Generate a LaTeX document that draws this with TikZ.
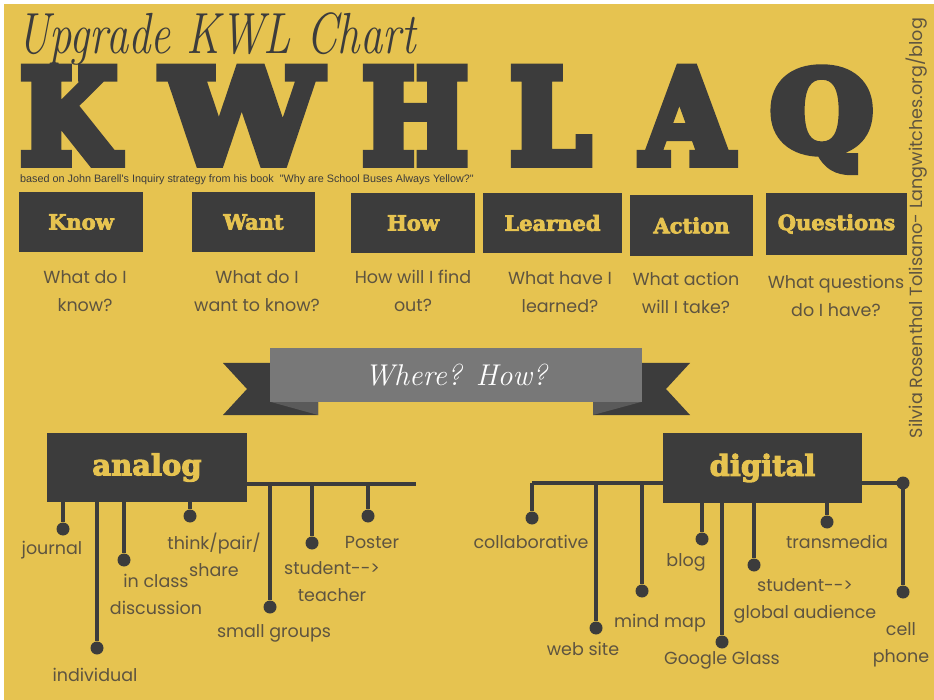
\documentclass[tikz,border=0pt]{standalone}
\usepackage{fontspec}
\usepackage{graphicx}
\usepackage{tikz}
\usetikzlibrary{positioning}
\newfontfamily\popfont{Poppins}
\newfontfamily\slabfont{DejaVu Serif}[FakeBold=3.5]
\newfontfamily\hugefont{DejaVu Serif}[FakeBold=8]
\newfontfamily\arialfont{Liberation Sans}
\definecolor{kwlyellow}{HTML}{E6C350}
\definecolor{kwldark}{HTML}{3C3C3C}
\definecolor{kwlgray}{HTML}{787878}
\definecolor{kwlfold}{HTML}{5A5A5A}
\definecolor{kwltext}{HTML}{5E5440}
\tikzset{
	twig/.style={draw=kwldark, line width=4pt}
}
\tikzstyle{stage}=[fill=kwldark, text=kwlyellow, inner sep=0pt, font=\slabfont\bfseries\fontsize{21}{21}\selectfont]
\tikzstyle{hub}=[fill=kwldark, text=kwlyellow, inner sep=0pt, font=\slabfont\bfseries\fontsize{29}{29}\selectfont]
\tikzstyle{ask}=[text=kwltext, inner sep=0pt, align=center, font=\popfont\fontsize{17.5}{28}\selectfont]
\tikzstyle{tag}=[text=kwltext, inner sep=0pt, align=center, font=\popfont\fontsize{17.5}{27}\selectfont]
\tikzstyle{knob}=[circle, fill=kwldark, inner sep=0pt, minimum size=13pt]
\newcommand{\bigLetter}[4]{
	\node[anchor=south west, inner sep=0pt, text=kwldark] (#1) at (#2,163) {\resizebox*{#3pt}{94pt}{\hugefont\bfseries #4}};
}

\begin{document}
\begin{tikzpicture}[x=1pt, y=-1pt]
	\useasboundingbox (0,0) rectangle (934,700);
	\fill[white] (0,0) rectangle (934,700);
	\fill[kwlyellow] (4,4) rectangle (934,700);
	\node[anchor=base west, inner sep=0pt, text=kwldark] (title) at (17,54) {\scalebox{0.77}[1]{\fontsize{58}{58}\selectfont\itshape Upgrade KWL Chart}};
	\bigLetter{bigK}{20}{97}{K}
	\bigLetter{bigW}{163}{157}{W}
	\bigLetter{bigH}{362}{106}{H}
	\bigLetter{bigL}{510}{80}{L}
	\bigLetter{bigA}{642}{90}{A}
	\node[anchor=south west, inner sep=0pt, text=kwldark] (bigQ) at (770,171) {\resizebox*{103pt}{102pt}{\hugefont\bfseries Q}};
	\node[anchor=base west, inner sep=0pt, text=kwldark] (source) at (20,183) {\arialfont\fontsize{10.8}{11}\selectfont based on John Barell's Inquiry strategy from his book \ "Why are School Buses Always Yellow?"};
	\node[rotate=90, inner sep=0pt, text=kwltext] (credit) at (917,228) {\popfont\fontsize{17.6}{18}\selectfont Silvia Rosenthal Tolisano- Langwitches.org/blog};
	\node[stage, minimum width=124pt, minimum height=60pt] (know) at (81,222) {Know};
	\node[stage, minimum width=123pt, minimum height=60pt] (want) at (253.5,222) {Want};
	\node[stage, minimum width=124pt, minimum height=60pt] (how) at (413,223) {How};
	\node[stage, minimum width=139pt, minimum height=60pt] (learned) at (552.5,223) {Learned};
	\node[stage, minimum width=123pt, minimum height=61pt] (action) at (691.5,225.5) {Action};
	\node[stage, minimum width=141pt, minimum height=62pt] (questions) at (836.5,224) {Questions};
	\node[ask] (knowq) at (85,291) {What do I\\know?};
	\node[ask] (wantq) at (257,291) {What do I\\want to know?};
	\node[ask] (howq) at (413,291) {How will I find\\out?};
	\node[ask] (learnedq) at (560,292) {What have I\\learned?};
	\node[ask] (actionq) at (686,293) {What action\\will I take?};
	\node[ask] (questionsq) at (836,296) {What questions\\do I have?};
	\fill[kwldark] (223,363) -- (318,363) -- (318,415) -- (223,415) -- (247,389) -- cycle;
	\fill[kwlfold] (271,402) -- (318,402) -- (318,415) -- cycle;
	\fill[kwldark] (690,363) -- (593,363) -- (593,415) -- (690,415) -- (666,389) -- cycle;
	\fill[kwlfold] (641,402) -- (593,402) -- (593,415) -- cycle;
	\node[fill=kwlgray, text=white, minimum width=372pt, minimum height=54pt, inner sep=0pt] (banner) at (456,375) {\fontsize{30}{30}\selectfont\itshape Where? How?};
	\node[hub, minimum width=200pt, minimum height=69pt] (analog) at (147,467.5) {analog};
	\node[hub, minimum width=199pt, minimum height=70pt] (digital) at (762.5,468) {digital};
	\coordinate (aend) at (416,484);
	\coordinate (dend) at (532,483);
	\draw[twig] (analog.east |- aend) -- (aend);
	\draw[twig] (dend) -- (digital.west |- dend);
	\node[knob] (aj) at (63,529) {};
	\node[knob] (ai) at (97,648) {};
	\node[knob] (ac) at (124,560) {};
	\node[knob] (at) at (190,516) {};
	\node[knob] (as) at (270,607) {};
	\node[knob] (ast) at (312,543) {};
	\node[knob] (ap) at (368,516) {};
	\draw[twig] (aj) -- (aj |- analog.south);
	\draw[twig] (ai) -- (ai |- analog.south);
	\draw[twig] (ac) -- (ac |- analog.south);
	\draw[twig] (at) -- (at |- analog.south);
	\draw[twig] (as) -- (as |- aend);
	\draw[twig] (ast) -- (ast |- aend);
	\draw[twig] (ap) -- (ap |- aend);
	\node[tag] (ajt) at (52,550) {journal};
	\node[tag] (ait) at (95,675) {individual};
	\node[tag] (act) at (156,594) {in class\\discussion};
	\node[tag] (att) at (214,555) {think/pair/\\share};
	\node[tag] (ast2) at (274,633) {small groups};
	\node[tag] (astt) at (332,582) {student-{}-{}>\\teacher};
	\node[tag] (apt) at (372,542) {Poster};
	\node[knob] (dc) at (532,518) {};
	\node[knob] (dw) at (596,628) {};
	\node[knob] (dm) at (642,591) {};
	\node[knob] (db) at (702,539) {};
	\node[knob] (dg) at (722,642) {};
	\node[knob] (dsa) at (754,565) {};
	\node[knob] (dt) at (827,522) {};
	\node[knob] (dk) at (903,483) {};
	\node[knob] (dp) at (903,592) {};
	\draw[twig] (dc) -- (dend);
	\draw[twig] (dw) -- (dw |- dend);
	\draw[twig] (dm) -- (dm |- dend);
	\draw[twig] (db) -- (db |- digital.south);
	\draw[twig] (dg) -- (dg |- digital.south);
	\draw[twig] (dsa) -- (dsa |- digital.south);
	\draw[twig] (dt) -- (dt |- digital.south);
	\draw[twig] (digital.east |- dk) -- (dk.center) -- (dp);
	\node[tag] (dct) at (531,542) {collaborative};
	\node[tag] (dwt) at (583,649) {web site};
	\node[tag] (dmt) at (660,623) {mind map};
	\node[tag] (dbt) at (686,562) {blog};
	\node[tag] (dgt) at (722,660) {Google Glass};
	\node[tag] (dsat) at (805,601) {student-{}-{}>\\global audience};
	\node[tag] (dtt) at (837,542) {transmedia};
	\node[tag] (dpt) at (901,645) {cell\\phone};
\end{tikzpicture}
\end{document}
